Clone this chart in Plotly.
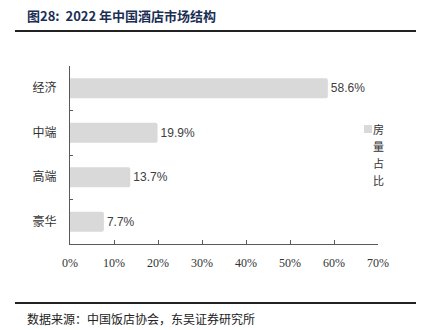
import plotly.graph_objects as go

categories = ["经济", "中端", "高端", "豪华"]
share = [58.6, 19.9, 13.7, 7.7]
series_name = "房量占比"
x_ticks = [0, 10, 20, 30, 40, 50, 60, 70]
x_tick_labels = [f"{v}%" for v in x_ticks]

bar_color = "#d9d9d9"
title_color = "#1b2f55"

W, H = 429, 330
l, r, t, b = 70, 51, 66, 86
pw, ph = W - l - r, H - t - b


def px(x):
    return (x - l) / pw


def py(y):
    return (H - b - y) / ph


fig = go.Figure()
fig.add_trace(go.Bar(
    y=categories,
    x=share,
    orientation="h",
    marker=dict(color=bar_color, cornerradius=2, line=dict(width=0)),
    width=0.45,
    text=[f"{v}%" for v in share],
    textposition="outside",
    textfont=dict(family="Liberation Sans, Arial", size=12, color="#404040"),
    cliponaxis=False,
    name=series_name,
    showlegend=False,
))

fig.update_layout(
    width=W, height=H,
    margin=dict(l=l, r=r, t=t, b=b),
    paper_bgcolor="white", plot_bgcolor="white",
    xaxis=dict(
        range=[0, 70], tickvals=x_ticks, ticktext=x_tick_labels,
        showgrid=False, zeroline=False,
        showline=True, linecolor="#595959", linewidth=1,
        ticks="inside", ticklen=4, tickcolor="#595959",
        tickfont=dict(family="Liberation Serif, Times New Roman", size=12, color="#333333"),
        ticklabelstandoff=8,
    ),
    yaxis=dict(
        categoryorder="array", categoryarray=categories, autorange="reversed",
        showgrid=False, zeroline=False,
        showline=True, linecolor="#595959", linewidth=1,
        ticks="inside", ticklen=3, tickcolor="#595959", tickson="boundaries",
        tickfont=dict(family="Noto Sans CJK SC", size=12, color="#333333"),
        ticklabelstandoff=10,
    ),
)

# Title and source note
fig.add_annotation(
    x=px(25), y=py(15), xref="paper", yref="paper",
    text="<b>图28:  2022 年中国酒店市场结构</b>",
    showarrow=False, xanchor="left", yanchor="middle",
    font=dict(family="Noto Sans CJK SC", size=13, color=title_color),
)
fig.add_annotation(
    x=px(25), y=py(318), xref="paper", yref="paper",
    text="数据来源：中国饭店协会，东吴证券研究所",
    showarrow=False, xanchor="left", yanchor="middle",
    font=dict(family="Noto Sans CJK SC", size=12, color="#222222"),
)

# Legend: swatch plus the series name stacked one character per row
for i, ch in enumerate(series_name):
    fig.add_annotation(
        x=px(378), y=py(129 + 17 * i), xref="paper", yref="paper",
        text=ch, showarrow=False, xanchor="center", yanchor="middle",
        font=dict(family="Noto Sans CJK SC", size=11, color="#333333"),
    )

fig.add_shape(type="line", xref="paper", yref="paper",
              x0=px(15), x1=px(416), y0=py(31), y1=py(31),
              line=dict(color="#222222", width=2))
fig.add_shape(type="line", xref="paper", yref="paper",
              x0=px(15), x1=px(416), y0=py(303), y1=py(303),
              line=dict(color="#222222", width=2))
fig.add_shape(type="rect", xref="paper", yref="paper",
              x0=px(364), x1=px(372), y0=py(125), y1=py(133),
              fillcolor=bar_color, line=dict(width=0))

fig.write_html("out.html")
